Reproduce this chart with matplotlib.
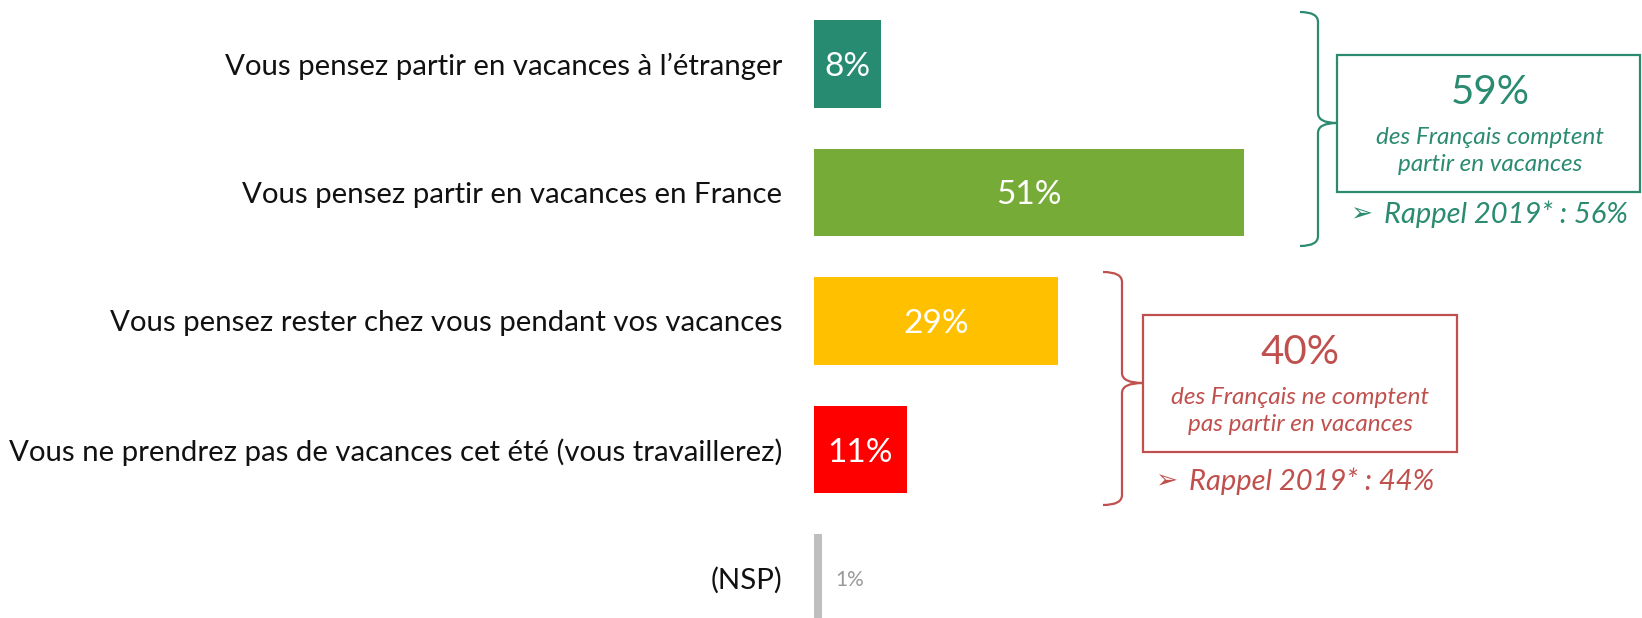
import matplotlib
matplotlib.use("Agg")
import matplotlib.pyplot as plt
from matplotlib.path import Path
from matplotlib.patches import PathPatch, Rectangle

plt.rcParams['font.family'] = ['Lato', 'DejaVu Sans']

# données
categories = [
    "Vous pensez partir en vacances à l’étranger",
    "Vous pensez partir en vacances en France",
    "Vous pensez rester chez vous pendant vos vacances",
    "Vous ne prendrez pas de vacances cet été (vous travaillerez)",
    "(NSP)",
]
values = [8, 51, 29, 11, 1]
bar_colors = ["#268B70", "#77AB37", "#FFC000", "#FF0000", "#BFBFBF"]

partent_total = "59%"
partent_txt = "des Français comptent\npartir en vacances"
partent_rappel = "Rappel 2019* : 56%"
restent_total = "40%"
restent_txt = "des Français ne comptent\npas partir en vacances"
restent_rappel = "Rappel 2019* : 44%"

GREEN = "#2A8B70"
RED = "#C0504D"

W, H = 1642, 618
fig = plt.figure(figsize=(W / 100, H / 100), dpi=100)

# axe des barres : commence à x=814 px, 8.43 px par point de %
x0 = 814
px_per = 8.43
ax = fig.add_axes([x0 / W, 0, 1 - x0 / W, 1])
ax.set_xlim(0, (W - x0) / px_per)
ax.set_ylim((H - 64) / 128.5, -64 / 128.5)
ypos = list(range(len(values)))
ax.barh(ypos, values, height=0.68, color=bar_colors)
ax.set_yticks(ypos)
ax.set_yticklabels(categories, fontsize=21.2, color="#111111")
ax.tick_params(axis="y", length=0, pad=23)
ax.set_xticks([])
for s in ax.spines.values():
    s.set_visible(False)

for i, v in enumerate(values):
    if v >= 5:
        ax.text(v / 2, i, f"{v}%", ha="center", va="center_baseline",
                color="white", fontsize=24)
    else:
        ax.text(v + 1.5, i, f"{v}%", ha="left", va="center_baseline",
                color="#999999", fontsize=15)

# calque en pixels pour les accolades et encadrés
ov = fig.add_axes([0, 0, 1, 1])
ov.set_xlim(0, W)
ov.set_ylim(H, 0)
ov.axis("off")


def brace(xa, xl, xn, yt, ym, yb, color):
    r = 10
    verts = [(xa, yt), (xl, yt), (xl, yt + r),
             (xl, ym - r),
             (xl, ym), (xn, ym),
             (xl, ym), (xl, ym + r),
             (xl, yb - r),
             (xl, yb), (xa, yb)]
    codes = [Path.MOVETO, Path.CURVE3, Path.CURVE3,
             Path.LINETO,
             Path.CURVE3, Path.CURVE3,
             Path.CURVE3, Path.CURVE3,
             Path.LINETO,
             Path.CURVE3, Path.CURVE3]
    ov.add_patch(PathPatch(Path(verts, codes), fill=False, ec=color, lw=1.6))


def rappel(x, y, txt, color):
    # flèche ➢ un peu plus grande que le texte
    ov.text(x, y, "➢", ha="left", va="center", color=color, fontsize=19,
            family=["DejaVu Sans"])
    ov.text(x + 34, y, txt, ha="left", va="center", color=color,
            fontsize=21, style="italic")


# groupe vert
brace(1300, 1318, 1337, 12, 123, 246, GREEN)
ov.add_patch(Rectangle((1337, 55), 303, 137, fill=False, ec=GREEN, lw=1.6))
ov.text(1490, 92, partent_total, ha="center", va="center", color=GREEN,
        fontsize=29)
ov.text(1490, 151, partent_txt, ha="center", va="center", color=GREEN,
        fontsize=17.5, style="italic", linespacing=1.3)
rappel(1350, 214, partent_rappel, GREEN)

# groupe rouge
brace(1103, 1122, 1143, 272, 383, 505, RED)
ov.add_patch(Rectangle((1143, 315), 314, 137, fill=False, ec=RED, lw=1.6))
ov.text(1300, 353, restent_total, ha="center", va="center", color=RED,
        fontsize=29)
ov.text(1300, 411, restent_txt, ha="center", va="center", color=RED,
        fontsize=17.5, style="italic", linespacing=1.3)
rappel(1155, 481, restent_rappel, RED)

fig.savefig("out.png", dpi=100)
